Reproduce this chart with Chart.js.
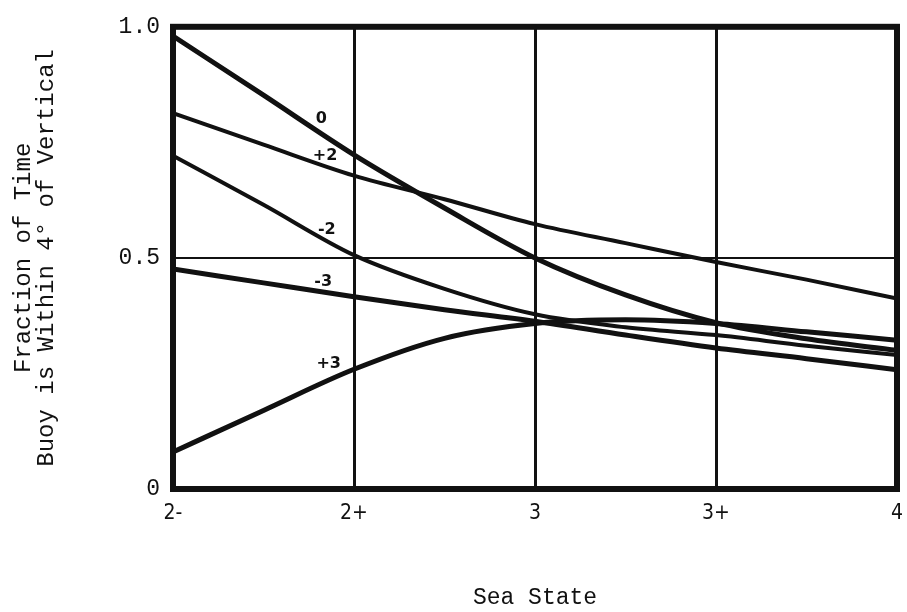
<!DOCTYPE html>
<html>
<head>
<meta charset="utf-8">
<script src="https://cdn.jsdelivr.net/npm/chart.js@4/dist/chart.umd.min.js"></script>
<style>
  html, body { margin: 0; padding: 0; background: #fff; }
  #wrap { width: 907px; height: 612px; }
</style>
</head>
<body>
<div id="wrap"><canvas id="chart"></canvas></div>
<script>
// sea state categories and where each reading was taken (half steps)
const seaStates = ["2-", "2+", "3", "3+", "4"];
const readAt = [0, 0.5, 1, 1.5, 2, 2.5, 3, 3.5, 4];

// fraction of time within 4 deg of vertical, one list per curve
const curve0 = [0.98, 0.852, 0.723, 0.608, 0.5, 0.42, 0.36, 0.325, 0.30];
const curvePlus2 = [0.813, 0.745, 0.678, 0.627, 0.573, 0.532, 0.491, 0.453, 0.412];
const curveMinus2 = [0.721, 0.615, 0.506, 0.433, 0.378, 0.35, 0.333, 0.31, 0.29];
const curveMinus3 = [0.476, 0.446, 0.416, 0.388, 0.363, 0.333, 0.305, 0.282, 0.258];
const curvePlus3 = [0.08, 0.17, 0.259, 0.326, 0.358, 0.366, 0.358, 0.34, 0.322];

const yTicks = { 0: "0", 0.5: "0.5", 1: "1.0" };

// little labels written along the curves: [text, sea-state position, fraction]
const curveNotes = [
  ["0", 0.82, 0.8],
  ["+2", 0.84, 0.72],
  ["-2", 0.85, 0.56],
  ["-3", 0.83, 0.448],
  ["+3", 0.86, 0.27],
];

const toPoints = (vals) => vals.map((v, i) => ({ x: readAt[i], y: v }));

const ink = "#111";

const mkSet = (label, vals, w) => ({
  label: label,
  data: toPoints(vals),
  borderColor: ink,
  borderWidth: w,
  pointRadius: 0,
  cubicInterpolationMode: "monotone",
  fill: false,
});

// heavy frame round the plot and the curve labels
const framePlugin = {
  id: "frame",
  afterDatasetsDraw(chart) {
    const { ctx, chartArea: a, scales } = chart;
    ctx.save();
    ctx.strokeStyle = ink;
    ctx.lineWidth = 6;
    ctx.strokeRect(a.left, a.top, a.right - a.left, a.bottom - a.top);
    ctx.fillStyle = ink;
    ctx.font = "bold 16px 'DejaVu Sans'";
    ctx.textAlign = "center";
    ctx.textBaseline = "middle";
    curveNotes.forEach(([t, x, y]) => {
      ctx.fillText(t, scales.x.getPixelForValue(x), scales.y.getPixelForValue(y));
    });
    ctx.restore();
  },
};

new Chart(document.getElementById("chart"), {
  type: "line",
  data: {
    datasets: [
      mkSet("0", curve0, 5),
      mkSet("+2", curvePlus2, 4),
      mkSet("-2", curveMinus2, 4),
      mkSet("-3", curveMinus3, 5),
      mkSet("+3", curvePlus3, 5),
    ],
  },
  options: {
    responsive: true,
    maintainAspectRatio: false,
    animation: false,
    layout: { padding: { top: 23, right: 10, left: 0, bottom: 0 } },
    plugins: { legend: { display: false }, tooltip: { enabled: false } },
    scales: {
      x: {
        type: "linear",
        min: 0,
        max: 4,
        border: { display: false },
        grid: { color: ink, lineWidth: 3, drawTicks: false },
        ticks: {
          stepSize: 1,
          color: ink,
          padding: 12,
          maxRotation: 0,
          font: { family: "'Liberation Sans Narrow', 'DejaVu Sans Condensed', sans-serif", size: 21 },
          callback: (v) => seaStates[v],
        },
        title: {
          display: true,
          text: "Sea State",
          color: ink,
          font: { family: "'Liberation Mono', monospace", size: 23 },
          padding: { top: 48, bottom: 0 },
        },
        afterFit: (s) => { s.height = 123; s.paddingRight = 0; s.paddingLeft = 0; },
      },
      y: {
        min: 0,
        max: 1,
        border: { display: false },
        grid: { color: ink, lineWidth: 2, drawTicks: false },
        ticks: {
          stepSize: 0.5,
          color: ink,
          padding: 13,
          font: { family: "'Liberation Mono', monospace", size: 23 },
          callback: (v) => yTicks[v],
        },
        title: {
          display: true,
          text: ["Fraction of Time", "Buoy is Within 4\u00b0 of Vertical"],
          color: ink,
          font: { family: "'Liberation Mono', monospace", size: 24, lineHeight: 0.95 },
          padding: { top: 12, bottom: 0 },
        },
        afterFit: (s) => { s.width = 173; },
      },
    },
  },
  plugins: [framePlugin],
});
</script>
</body>
</html>
